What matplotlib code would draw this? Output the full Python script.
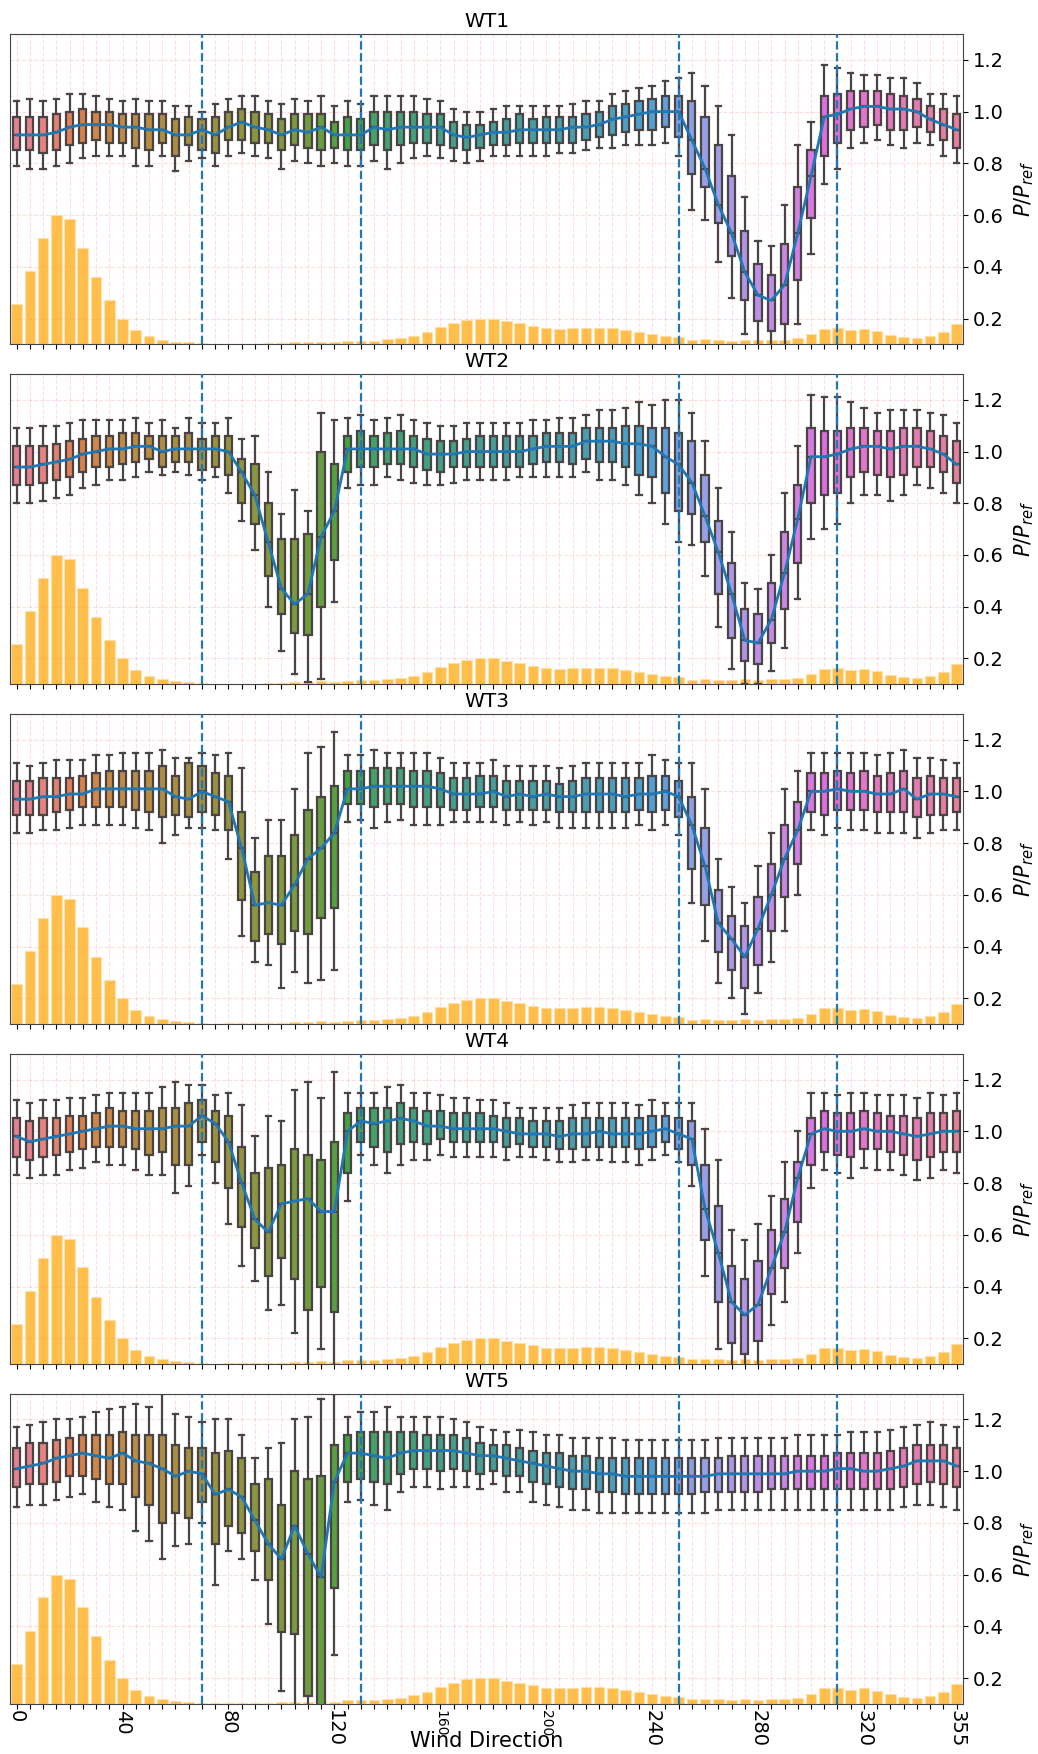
import matplotlib
matplotlib.use('Agg')
import matplotlib.pyplot as plt
import numpy as np
import seaborn as sns

# wind direction bins (deg)
directions = list(range(0, 360, 5))
label_dirs = [0, 40, 80, 120, 160, 200, 240, 280, 320, 355]
small_labels = ['160', '200']
sector_lines = [70, 130, 250, 310]
turbines = ['WT1', 'WT2', 'WT3', 'WT4', 'WT5']

# wind direction frequency, drawn as bars (in axis units)
freq = [0.256, 0.382, 0.512, 0.599, 0.583, 0.474, 0.361, 0.270, 0.200, 0.154, 0.131, 0.119,
        0.111, 0.109, 0.105, 0.102, 0.103, 0.103, 0.103, 0.105, 0.106, 0.109, 0.109, 0.111,
        0.109, 0.114, 0.115, 0.115, 0.120, 0.125, 0.133, 0.147, 0.167, 0.183, 0.195, 0.200,
        0.200, 0.190, 0.182, 0.172, 0.163, 0.161, 0.163, 0.165, 0.165, 0.163, 0.154, 0.147,
        0.140, 0.132, 0.127, 0.118, 0.121, 0.118, 0.115, 0.119, 0.116, 0.119, 0.119, 0.124,
        0.140, 0.161, 0.163, 0.154, 0.160, 0.150, 0.137, 0.128, 0.125, 0.131, 0.147, 0.178]

# ---- WT1 ----
wt1_hi = [1.04, 1.05, 1.04, 1.05, 1.07, 1.07, 1.06, 1.05, 1.04, 1.05, 1.04, 1.04,
          1.02, 1.02, 1.00, 1.03, 1.05, 1.06, 1.06, 1.04, 1.03, 1.05, 1.04, 1.06,
          1.02, 1.04, 1.03, 1.06, 1.06, 1.06, 1.06, 1.05, 1.04, 1.01, 1.00, 1.00,
          1.01, 1.02, 1.02, 1.02, 1.02, 1.02, 1.03, 1.04, 1.04, 1.07, 1.08, 1.09,
          1.10, 1.12, 1.13, 1.15, 1.10, 1.02, 0.91, 0.67, 0.50, 0.48, 0.64, 0.87,
          0.96, 1.18, 1.17, 1.15, 1.14, 1.14, 1.13, 1.13, 1.11, 1.07, 1.07, 1.06]
wt1_q3 = [0.98, 0.98, 0.98, 0.99, 1.00, 1.01, 1.00, 1.00, 0.99, 0.99, 0.99, 0.99,
          0.97, 0.98, 0.97, 0.98, 1.00, 1.01, 1.00, 0.99, 0.97, 0.99, 0.99, 0.99,
          0.96, 0.98, 0.97, 1.00, 1.00, 1.00, 1.00, 0.99, 0.99, 0.96, 0.95, 0.95,
          0.96, 0.97, 0.99, 0.97, 0.98, 0.98, 0.98, 0.99, 1.00, 1.02, 1.03, 1.04,
          1.05, 1.06, 1.06, 1.04, 0.98, 0.87, 0.75, 0.54, 0.41, 0.37, 0.49, 0.71,
          0.85, 1.06, 1.07, 1.08, 1.08, 1.08, 1.07, 1.06, 1.05, 1.02, 1.01, 0.99]
wt1_med = [0.91, 0.91, 0.91, 0.92, 0.94, 0.95, 0.95, 0.95, 0.94, 0.94, 0.93, 0.93,
           0.91, 0.91, 0.93, 0.91, 0.94, 0.96, 0.94, 0.93, 0.91, 0.93, 0.92, 0.94,
           0.91, 0.91, 0.91, 0.94, 0.93, 0.94, 0.94, 0.94, 0.94, 0.91, 0.90, 0.91,
           0.92, 0.92, 0.93, 0.93, 0.93, 0.93, 0.94, 0.94, 0.95, 0.97, 0.98, 0.99,
           1.00, 1.00, 1.00, 0.89, 0.78, 0.64, 0.53, 0.38, 0.29, 0.27, 0.33, 0.53,
           0.75, 0.98, 0.99, 1.01, 1.02, 1.02, 1.01, 1.01, 1.00, 0.97, 0.95, 0.93]
wt1_q1 = [0.85, 0.85, 0.84, 0.85, 0.87, 0.88, 0.89, 0.88, 0.88, 0.86, 0.85, 0.88,
          0.83, 0.87, 0.85, 0.84, 0.89, 0.89, 0.88, 0.88, 0.85, 0.87, 0.86, 0.85,
          0.86, 0.85, 0.85, 0.87, 0.85, 0.87, 0.88, 0.88, 0.87, 0.86, 0.85, 0.86,
          0.87, 0.87, 0.88, 0.88, 0.88, 0.88, 0.88, 0.89, 0.90, 0.91, 0.92, 0.93,
          0.93, 0.94, 0.90, 0.76, 0.71, 0.57, 0.44, 0.27, 0.19, 0.15, 0.18, 0.35,
          0.59, 0.83, 0.88, 0.93, 0.94, 0.95, 0.93, 0.93, 0.94, 0.92, 0.89, 0.86]
wt1_lo = [0.79, 0.78, 0.78, 0.79, 0.80, 0.82, 0.83, 0.83, 0.83, 0.79, 0.79, 0.83,
          0.77, 0.81, 0.82, 0.79, 0.83, 0.84, 0.83, 0.82, 0.78, 0.81, 0.80, 0.79,
          0.80, 0.79, 0.79, 0.81, 0.78, 0.80, 0.82, 0.83, 0.82, 0.81, 0.80, 0.81,
          0.83, 0.83, 0.83, 0.83, 0.83, 0.84, 0.84, 0.85, 0.86, 0.86, 0.87, 0.87,
          0.87, 0.88, 0.83, 0.62, 0.58, 0.42, 0.28, 0.14, 0.08, 0.08, 0.08, 0.18,
          0.45, 0.72, 0.78, 0.86, 0.88, 0.89, 0.87, 0.86, 0.88, 0.87, 0.83, 0.80]

# ---- WT2 ----
wt2_hi = [1.09, 1.09, 1.10, 1.10, 1.11, 1.12, 1.12, 1.12, 1.12, 1.13, 1.11, 1.12,
          1.09, 1.13, 1.11, 1.11, 1.13, 1.05, 1.06, 0.92, 0.76, 0.85, 0.77, 1.15,
          1.12, 1.13, 1.14, 1.12, 1.13, 1.14, 1.12, 1.11, 1.10, 1.10, 1.11, 1.11,
          1.11, 1.11, 1.11, 1.12, 1.12, 1.13, 1.13, 1.14, 1.16, 1.16, 1.17, 1.19,
          1.18, 1.20, 1.20, 1.15, 1.04, 0.86, 0.69, 0.49, 0.47, 0.60, 0.84, 1.02,
          1.22, 1.21, 1.21, 1.19, 1.17, 1.15, 1.16, 1.16, 1.16, 1.15, 1.14, 1.11]
wt2_q3 = [1.02, 1.02, 1.02, 1.03, 1.04, 1.05, 1.06, 1.06, 1.07, 1.07, 1.06, 1.06,
          1.06, 1.07, 1.05, 1.06, 1.06, 0.97, 0.95, 0.80, 0.66, 0.66, 0.68, 1.00,
          0.95, 1.06, 1.08, 1.06, 1.07, 1.08, 1.06, 1.05, 1.04, 1.04, 1.05, 1.06,
          1.06, 1.06, 1.06, 1.06, 1.07, 1.07, 1.07, 1.09, 1.09, 1.09, 1.10, 1.10,
          1.09, 1.09, 1.07, 1.04, 0.91, 0.73, 0.57, 0.39, 0.37, 0.49, 0.69, 0.87,
          1.09, 1.08, 1.08, 1.09, 1.09, 1.08, 1.08, 1.09, 1.09, 1.08, 1.06, 1.04]
wt2_med = [0.94, 0.94, 0.95, 0.96, 0.97, 0.99, 1.00, 1.01, 1.01, 1.02, 1.02, 1.00,
           1.01, 1.01, 1.01, 1.01, 1.00, 0.92, 0.83, 0.65, 0.47, 0.41, 0.45, 0.67,
           0.77, 1.01, 1.01, 1.01, 1.01, 1.01, 1.01, 0.99, 0.99, 0.99, 1.00, 1.00,
           1.00, 1.00, 1.00, 1.01, 1.02, 1.02, 1.02, 1.04, 1.04, 1.04, 1.03, 1.03,
           1.02, 0.98, 0.95, 0.88, 0.75, 0.61, 0.45, 0.27, 0.26, 0.35, 0.53, 0.74,
           0.98, 0.98, 0.99, 1.01, 1.02, 1.02, 1.01, 1.02, 1.02, 1.01, 0.99, 0.95]
wt2_q1 = [0.87, 0.87, 0.88, 0.89, 0.90, 0.92, 0.94, 0.94, 0.95, 0.96, 0.97, 0.94,
          0.96, 0.96, 0.93, 0.94, 0.91, 0.80, 0.72, 0.52, 0.37, 0.30, 0.29, 0.40,
          0.58, 0.92, 0.94, 0.94, 0.95, 0.95, 0.94, 0.93, 0.92, 0.94, 0.94, 0.94,
          0.94, 0.94, 0.94, 0.95, 0.96, 0.96, 0.95, 0.97, 0.96, 0.96, 0.94, 0.91,
          0.90, 0.84, 0.77, 0.76, 0.65, 0.45, 0.28, 0.19, 0.18, 0.26, 0.39, 0.57,
          0.80, 0.83, 0.84, 0.90, 0.92, 0.91, 0.90, 0.91, 0.94, 0.94, 0.92, 0.88]
wt2_lo = [0.80, 0.80, 0.81, 0.82, 0.83, 0.86, 0.87, 0.89, 0.89, 0.90, 0.92, 0.91,
          0.92, 0.91, 0.89, 0.90, 0.84, 0.73, 0.62, 0.40, 0.23, 0.14, 0.11, 0.12,
          0.42, 0.86, 0.87, 0.87, 0.90, 0.89, 0.88, 0.87, 0.87, 0.88, 0.89, 0.89,
          0.89, 0.89, 0.90, 0.90, 0.90, 0.90, 0.90, 0.92, 0.89, 0.89, 0.87, 0.83,
          0.80, 0.72, 0.65, 0.64, 0.52, 0.32, 0.16, 0.10, 0.10, 0.15, 0.24, 0.43,
          0.66, 0.70, 0.72, 0.80, 0.83, 0.83, 0.81, 0.83, 0.87, 0.86, 0.84, 0.80]

# ---- WT3 ----
wt3_hi = [1.11, 1.10, 1.11, 1.12, 1.12, 1.12, 1.14, 1.14, 1.15, 1.15, 1.15, 1.16,
          1.13, 1.13, 1.15, 1.14, 1.15, 1.09, 0.82, 0.89, 0.89, 1.01, 1.15, 1.17,
          1.23, 1.14, 1.14, 1.16, 1.15, 1.15, 1.15, 1.15, 1.13, 1.11, 1.11, 1.11,
          1.12, 1.10, 1.10, 1.10, 1.10, 1.09, 1.10, 1.11, 1.11, 1.11, 1.11, 1.11,
          1.14, 1.12, 1.11, 1.11, 1.01, 0.74, 0.63, 0.57, 0.71, 0.84, 1.01, 1.08,
          1.15, 1.15, 1.15, 1.15, 1.15, 1.14, 1.15, 1.16, 1.13, 1.13, 1.12, 1.11]
wt3_q3 = [1.04, 1.04, 1.05, 1.05, 1.05, 1.06, 1.07, 1.08, 1.08, 1.08, 1.08, 1.10,
          1.06, 1.11, 1.10, 1.07, 1.06, 0.92, 0.69, 0.75, 0.75, 0.83, 0.93, 0.98,
          1.02, 1.08, 1.08, 1.09, 1.09, 1.09, 1.08, 1.08, 1.07, 1.05, 1.05, 1.06,
          1.06, 1.04, 1.04, 1.04, 1.04, 1.03, 1.04, 1.05, 1.05, 1.05, 1.05, 1.05,
          1.06, 1.06, 1.04, 0.98, 0.86, 0.62, 0.52, 0.48, 0.59, 0.72, 0.87, 0.96,
          1.07, 1.07, 1.08, 1.07, 1.08, 1.06, 1.07, 1.08, 1.05, 1.06, 1.05, 1.05]
wt3_med = [0.97, 0.97, 0.98, 0.98, 0.99, 0.99, 1.01, 1.01, 1.01, 1.01, 1.01, 1.01,
           0.98, 0.97, 1.00, 0.98, 0.96, 0.78, 0.56, 0.57, 0.56, 0.64, 0.74, 0.78,
           0.84, 1.01, 1.01, 1.02, 1.02, 1.02, 1.02, 1.02, 1.01, 0.99, 0.99, 0.99,
           1.00, 0.98, 0.99, 0.98, 0.99, 0.98, 0.98, 0.99, 0.99, 0.99, 0.98, 0.99,
           0.99, 1.00, 0.98, 0.87, 0.71, 0.49, 0.43, 0.36, 0.47, 0.60, 0.74, 0.85,
           1.00, 1.00, 1.01, 1.00, 1.00, 0.99, 0.99, 1.01, 0.97, 0.99, 0.99, 0.98]
wt3_q1 = [0.91, 0.91, 0.91, 0.92, 0.93, 0.94, 0.94, 0.94, 0.94, 0.93, 0.92, 0.90,
          0.91, 0.90, 0.92, 0.91, 0.85, 0.58, 0.42, 0.45, 0.41, 0.46, 0.45, 0.51,
          0.55, 0.95, 0.95, 0.94, 0.95, 0.95, 0.94, 0.94, 0.94, 0.93, 0.93, 0.94,
          0.94, 0.93, 0.93, 0.93, 0.93, 0.92, 0.92, 0.92, 0.92, 0.92, 0.92, 0.93,
          0.92, 0.93, 0.90, 0.70, 0.56, 0.38, 0.31, 0.24, 0.33, 0.46, 0.59, 0.72,
          0.92, 0.91, 0.93, 0.93, 0.93, 0.92, 0.92, 0.92, 0.90, 0.91, 0.91, 0.92]
wt3_lo = [0.84, 0.84, 0.85, 0.85, 0.86, 0.87, 0.87, 0.87, 0.87, 0.86, 0.85, 0.80,
          0.83, 0.86, 0.86, 0.85, 0.74, 0.44, 0.34, 0.33, 0.24, 0.30, 0.26, 0.27,
          0.31, 0.88, 0.89, 0.86, 0.88, 0.89, 0.87, 0.87, 0.87, 0.88, 0.88, 0.88,
          0.88, 0.87, 0.88, 0.87, 0.88, 0.86, 0.86, 0.86, 0.86, 0.86, 0.86, 0.87,
          0.85, 0.87, 0.83, 0.57, 0.42, 0.26, 0.20, 0.14, 0.22, 0.34, 0.46, 0.60,
          0.85, 0.83, 0.86, 0.85, 0.85, 0.84, 0.84, 0.84, 0.82, 0.84, 0.85, 0.85]

# ---- WT4 ----
wt4_hi = [1.12, 1.11, 1.12, 1.12, 1.13, 1.13, 1.14, 1.15, 1.15, 1.15, 1.15, 1.17,
          1.19, 1.18, 1.18, 1.14, 1.15, 1.10, 0.98, 1.06, 1.04, 1.16, 1.19, 1.13,
          1.23, 1.15, 1.15, 1.15, 1.17, 1.18, 1.15, 1.15, 1.14, 1.13, 1.13, 1.12,
          1.12, 1.11, 1.09, 1.09, 1.09, 1.09, 1.10, 1.11, 1.11, 1.11, 1.11, 1.10,
          1.12, 1.11, 1.11, 1.11, 1.01, 0.89, 0.62, 0.58, 0.64, 0.75, 0.88, 1.00,
          1.15, 1.15, 1.14, 1.15, 1.15, 1.14, 1.14, 1.14, 1.13, 1.15, 1.14, 1.15]
wt4_q3 = [1.05, 1.04, 1.05, 1.05, 1.06, 1.06, 1.07, 1.09, 1.08, 1.08, 1.08, 1.09,
          1.09, 1.11, 1.12, 1.08, 1.06, 0.94, 0.84, 0.86, 0.87, 0.93, 0.91, 0.89,
          0.96, 1.07, 1.09, 1.09, 1.09, 1.11, 1.09, 1.08, 1.08, 1.07, 1.07, 1.07,
          1.06, 1.05, 1.05, 1.04, 1.04, 1.04, 1.05, 1.05, 1.05, 1.05, 1.05, 1.05,
          1.06, 1.06, 1.05, 1.04, 0.87, 0.71, 0.48, 0.43, 0.50, 0.62, 0.74, 0.88,
          1.05, 1.08, 1.07, 1.07, 1.08, 1.07, 1.06, 1.06, 1.05, 1.07, 1.07, 1.08]
wt4_med = [0.98, 0.96, 0.97, 0.98, 0.99, 1.00, 1.01, 1.02, 1.02, 1.01, 1.01, 1.01,
           1.02, 1.02, 1.06, 1.03, 0.96, 0.80, 0.66, 0.61, 0.72, 0.73, 0.74, 0.69,
           0.69, 1.00, 1.04, 1.03, 1.04, 1.05, 1.04, 1.02, 1.02, 1.01, 1.01, 1.01,
           1.01, 1.00, 0.99, 0.99, 0.99, 0.98, 0.99, 0.99, 1.00, 0.99, 0.99, 0.99,
           1.00, 1.01, 0.99, 0.97, 0.70, 0.53, 0.34, 0.29, 0.33, 0.47, 0.61, 0.82,
           0.99, 1.01, 1.00, 1.00, 1.01, 1.00, 1.00, 0.99, 0.98, 0.99, 1.00, 1.00]
wt4_q1 = [0.90, 0.89, 0.90, 0.91, 0.92, 0.93, 0.94, 0.94, 0.94, 0.93, 0.91, 0.92,
          0.87, 0.87, 0.96, 0.88, 0.78, 0.63, 0.55, 0.44, 0.51, 0.43, 0.31, 0.40,
          0.30, 0.84, 0.96, 0.94, 0.92, 0.95, 0.96, 0.95, 0.97, 0.96, 0.96, 0.96,
          0.96, 0.94, 0.95, 0.94, 0.94, 0.93, 0.93, 0.94, 0.94, 0.94, 0.94, 0.93,
          0.94, 0.96, 0.93, 0.87, 0.58, 0.34, 0.18, 0.14, 0.19, 0.37, 0.47, 0.65,
          0.87, 0.92, 0.91, 0.90, 0.93, 0.93, 0.92, 0.91, 0.89, 0.90, 0.92, 0.92]
wt4_lo = [0.83, 0.82, 0.83, 0.83, 0.85, 0.86, 0.88, 0.87, 0.87, 0.85, 0.83, 0.83,
          0.76, 0.79, 0.91, 0.80, 0.64, 0.48, 0.42, 0.31, 0.33, 0.22, 0.08, 0.16,
          0.08, 0.73, 0.91, 0.87, 0.84, 0.87, 0.89, 0.89, 0.91, 0.90, 0.90, 0.90,
          0.90, 0.89, 0.90, 0.90, 0.89, 0.88, 0.88, 0.89, 0.89, 0.88, 0.88, 0.87,
          0.89, 0.91, 0.88, 0.79, 0.44, 0.16, 0.08, 0.08, 0.08, 0.25, 0.34, 0.53,
          0.78, 0.85, 0.84, 0.82, 0.86, 0.85, 0.85, 0.83, 0.81, 0.82, 0.85, 0.84]

# ---- WT5 ----
wt5_hi = [1.17, 1.18, 1.19, 1.20, 1.20, 1.21, 1.23, 1.24, 1.25, 1.26, 1.25, 1.30,
          1.22, 1.21, 1.19, 1.20, 1.20, 1.14, 1.05, 1.09, 1.11, 1.20, 1.21, 1.28,
          1.30, 1.21, 1.23, 1.23, 1.25, 1.21, 1.21, 1.21, 1.21, 1.20, 1.19, 1.17,
          1.16, 1.15, 1.16, 1.15, 1.14, 1.14, 1.13, 1.13, 1.13, 1.13, 1.12, 1.12,
          1.12, 1.12, 1.12, 1.12, 1.12, 1.13, 1.13, 1.13, 1.13, 1.13, 1.13, 1.14,
          1.14, 1.14, 1.14, 1.15, 1.15, 1.15, 1.16, 1.17, 1.18, 1.19, 1.18, 1.17]
wt5_q3 = [1.09, 1.11, 1.11, 1.12, 1.13, 1.14, 1.14, 1.14, 1.15, 1.14, 1.14, 1.14,
          1.10, 1.09, 1.09, 1.07, 1.08, 1.05, 0.95, 0.97, 0.87, 1.00, 0.97, 0.98,
          1.10, 1.14, 1.15, 1.15, 1.15, 1.15, 1.15, 1.14, 1.14, 1.14, 1.13, 1.11,
          1.10, 1.10, 1.09, 1.08, 1.07, 1.07, 1.06, 1.06, 1.05, 1.05, 1.05, 1.05,
          1.05, 1.05, 1.05, 1.05, 1.05, 1.05, 1.06, 1.06, 1.06, 1.06, 1.06, 1.06,
          1.06, 1.06, 1.07, 1.07, 1.07, 1.07, 1.08, 1.09, 1.10, 1.10, 1.10, 1.09]
wt5_med = [1.01, 1.02, 1.03, 1.05, 1.06, 1.07, 1.06, 1.05, 1.07, 1.04, 1.03, 1.01,
           0.98, 1.00, 0.99, 0.91, 0.93, 0.90, 0.81, 0.72, 0.66, 0.79, 0.68, 0.59,
           0.96, 1.07, 1.07, 1.06, 1.05, 1.07, 1.08, 1.08, 1.08, 1.08, 1.07, 1.06,
           1.06, 1.05, 1.04, 1.03, 1.02, 1.01, 1.00, 1.00, 0.99, 0.99, 0.98, 0.98,
           0.98, 0.98, 0.98, 0.98, 0.98, 0.99, 0.99, 0.99, 0.99, 0.99, 0.99, 1.00,
           1.00, 1.00, 1.01, 1.01, 1.00, 1.00, 1.01, 1.02, 1.04, 1.04, 1.04, 1.02]
wt5_q1 = [0.94, 0.95, 0.95, 0.96, 0.98, 0.98, 0.97, 0.95, 0.95, 0.90, 0.87, 0.80,
          0.84, 0.82, 0.88, 0.72, 0.79, 0.76, 0.69, 0.58, 0.38, 0.37, 0.13, 0.05,
          0.55, 0.96, 0.97, 0.96, 0.95, 0.99, 1.01, 1.01, 1.00, 1.01, 1.00, 0.99,
          1.00, 0.98, 0.98, 0.96, 0.95, 0.94, 0.93, 0.93, 0.92, 0.92, 0.91, 0.91,
          0.91, 0.91, 0.91, 0.91, 0.92, 0.92, 0.92, 0.92, 0.92, 0.93, 0.93, 0.93,
          0.93, 0.93, 0.93, 0.93, 0.93, 0.93, 0.93, 0.94, 0.95, 0.96, 0.95, 0.94]
wt5_lo = [0.86, 0.87, 0.87, 0.89, 0.90, 0.91, 0.88, 0.86, 0.85, 0.77, 0.73, 0.66,
          0.71, 0.72, 0.80, 0.56, 0.69, 0.66, 0.58, 0.41, 0.15, 0.05, 0.05, 0.03,
          0.29, 0.88, 0.89, 0.87, 0.85, 0.92, 0.94, 0.94, 0.93, 0.94, 0.94, 0.93,
          0.95, 0.92, 0.92, 0.88, 0.87, 0.86, 0.85, 0.85, 0.84, 0.84, 0.84, 0.84,
          0.84, 0.84, 0.84, 0.84, 0.84, 0.85, 0.85, 0.85, 0.85, 0.85, 0.85, 0.85,
          0.85, 0.85, 0.85, 0.85, 0.85, 0.85, 0.85, 0.86, 0.87, 0.87, 0.86, 0.85]

data = {
    'WT1': (wt1_hi, wt1_q3, wt1_med, wt1_q1, wt1_lo),
    'WT2': (wt2_hi, wt2_q3, wt2_med, wt2_q1, wt2_lo),
    'WT3': (wt3_hi, wt3_q3, wt3_med, wt3_q1, wt3_lo),
    'WT4': (wt4_hi, wt4_q3, wt4_med, wt4_q1, wt4_lo),
    'WT5': (wt5_hi, wt5_q3, wt5_med, wt5_q1, wt5_lo),
}

line_gray = '#4a4444'
palette = [sns.desaturate(c, 0.75) for c in sns.color_palette('husl', len(directions))]
pos = np.arange(len(directions))

fig, axes = plt.subplots(5, 1, figsize=(10.38, 17.54), dpi=100, sharex=True)
fig.subplots_adjust(left=0.0096, right=0.928, top=0.9806, bottom=0.0285, hspace=0.095)

for ax, name in zip(axes, turbines):
    hi, q3, med, q1, lo = data[name]
    stats = [dict(med=m, q1=a, q3=b, whislo=l, whishi=h)
             for h, b, m, a, l in zip(hi, q3, med, q1, lo)]

    ax.bar(pos, freq, width=0.8, color='orange', alpha=0.7,
           edgecolor='#ffe0b0', linewidth=0.8, zorder=1)

    bp = ax.bxp(stats, positions=pos, widths=0.55, capwidths=0.4,
                showfliers=False, patch_artist=True,
                boxprops=dict(edgecolor=line_gray, linewidth=1.6),
                whiskerprops=dict(color=line_gray, linewidth=1.6),
                capprops=dict(color=line_gray, linewidth=1.6),
                medianprops=dict(color=line_gray, linewidth=1.6))
    for patch, c in zip(bp['boxes'], palette):
        patch.set_facecolor(c)
        patch.set_zorder(2)

    ax.plot(pos, med, color='#1f77b4', lw=2, zorder=4)
    for d in sector_lines:
        ax.axvline(directions.index(d), color='#1f77b4', ls='--', lw=1.6, zorder=5)

    ax.set_xlim(-0.5, len(directions) - 0.5)
    ax.set_ylim(0.1, 1.3)
    ax.set_yticks([0.2, 0.4, 0.6, 0.8, 1.0, 1.2])
    ax.yaxis.tick_right()
    ax.yaxis.set_label_position('right')
    ax.set_ylabel('$P/P_{ref}$', fontsize=15, labelpad=6)
    ax.tick_params(axis='y', labelsize=14)
    ax.set_title(name, fontsize=14.5, pad=5)
    ax.set_xticks(pos)
    ax.grid(True, color='red', alpha=0.13, ls='--', lw=0.8)
    ax.set_axisbelow(True)
    for s in ax.spines.values():
        s.set_color('#444444')

bottom = axes[-1]
labels = [str(d) if d in label_dirs else '' for d in directions]
bottom.set_xticklabels(labels)
bottom.tick_params(axis='x', labelrotation=270, labelsize=14, pad=1)
for t in bottom.get_xticklabels():
    if t.get_text() in small_labels:
        t.set_fontsize(10)
bottom.set_xlabel('Wind Direction', fontsize=15)
bottom.xaxis.set_label_coords(0.5, -0.12)
bottom.xaxis.label.set_va('center')

fig.savefig('out.png', dpi=100)
